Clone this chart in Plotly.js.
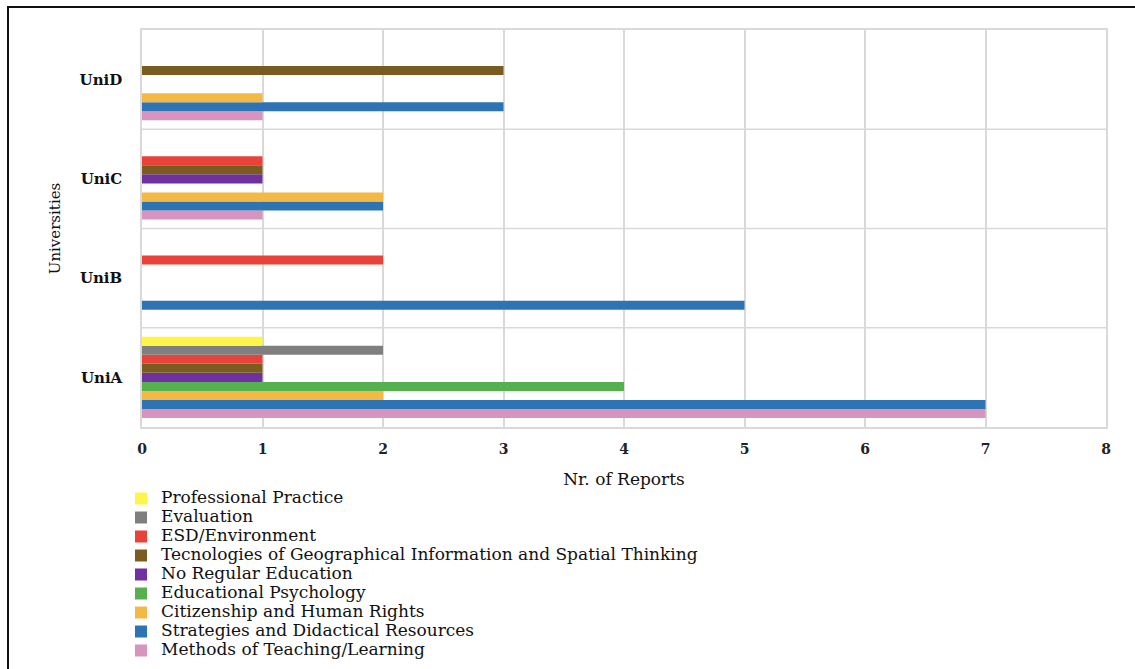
<!DOCTYPE html>
<html>
<head>
<meta charset="utf-8">
<script src="https://cdn.plot.ly/plotly-3.0.1.min.js"></script>
<style>html,body{margin:0;padding:0;background:#fff;}</style>
</head>
<body>
<div id="chart" style="width:1135px;height:669px;"></div>
<script>
// Data
const universities = ['UniA', 'UniB', 'UniC', 'UniD'];
const professionalPractice = [1, 0, 0, 0];
const evaluation = [2, 0, 0, 0];
const esdEnvironment = [1, 2, 1, 0];
const tecnologiesGIS = [1, 0, 1, 3];
const noRegularEducation = [1, 0, 1, 0];
const educationalPsychology = [4, 0, 0, 0];
const citizenshipHumanRights = [2, 0, 2, 1];
const strategiesDidactical = [7, 5, 2, 3];
const methodsTeaching = [7, 0, 1, 1];
const xTicks = [0, 1, 2, 3, 4, 5, 6, 7, 8];

// Series listed bottom-to-top within each group
const series = [
  {name: 'Methods of Teaching/Learning', values: methodsTeaching, color: '#D694BE'},
  {name: 'Strategies and Didactical Resources', values: strategiesDidactical, color: '#2E74B5'},
  {name: 'Citizenship and Human Rights', values: citizenshipHumanRights, color: '#F4B944'},
  {name: 'Educational Psychology', values: educationalPsychology, color: '#55B04F'},
  {name: 'No Regular Education', values: noRegularEducation, color: '#7030A0'},
  {name: 'Tecnologies of Geographical Information and Spatial Thinking', values: tecnologiesGIS, color: '#7B5C20'},
  {name: 'ESD/Environment', values: esdEnvironment, color: '#E8423A'},
  {name: 'Evaluation', values: evaluation, color: '#7F7F7F'},
  {name: 'Professional Practice', values: professionalPractice, color: '#FFF54A'}
];

const serif = 'DejaVu Serif, serif';
const traces = series.map(s => ({
  type: 'bar',
  orientation: 'h',
  name: '<span style="font-size:17px">' + s.name + '</span>',
  y: universities,
  x: s.values,
  marker: {color: s.color, line: {width: 0}}
}));

const W = 1135, H = 669, L = 142, R = 29, T = 30, B = 242;
const pw = W - L - R, ph = H - T - B;
const px = v => (v - L) / pw;
const py = v => (H - B - v) / ph;

const shapes = [0.5, 1.5, 2.5].map(v => ({
  type: 'line', xref: 'paper', yref: 'y', x0: 0, x1: 1, y0: v, y1: v,
  line: {color: '#D9D9D9', width: 1.5}, layer: 'below'
}));
shapes.push({
  type: 'rect', xref: 'paper', yref: 'paper',
  x0: px(8), x1: px(1145), y0: py(7), y1: py(690),
  line: {color: '#111', width: 2}, fillcolor: 'rgba(0,0,0,0)'
});

const layout = {
  width: W, height: H,
  margin: {l: L, r: R, t: T, b: B, autoexpand: false},
  paper_bgcolor: '#fff', plot_bgcolor: '#fff',
  barmode: 'group', bargap: 0.18, bargroupgap: 0,
  showlegend: true,
  legend: {
    x: px(121), y: py(484), xanchor: 'left', yanchor: 'top',
    traceorder: 'reversed',
    font: {family: serif, size: 12, color: '#111'},
    tracegroupgap: 0, itemwidth: 30, bgcolor: 'rgba(0,0,0,0)'
  },
  xaxis: {
    range: [0, 8], tickvals: xTicks, ticktext: xTicks.map(String),
    showgrid: true, gridcolor: '#D9D9D9', gridwidth: 1.5,
    zeroline: false, showline: true, mirror: true, linecolor: '#D9D9D9', linewidth: 1.5,
    ticks: '', ticklabelstandoff: 8,
    tickfont: {family: serif, size: 14, color: '#222', weight: 'bold'},
    title: {text: 'Nr. of Reports', font: {family: serif, size: 17, color: '#111'}, standoff: 18}
  },
  yaxis: {
    type: 'category', categoryorder: 'array', categoryarray: universities,
    range: [-0.5, 3.5],
    showgrid: false, zeroline: false, showline: true, mirror: true, linecolor: '#D9D9D9', linewidth: 1.5,
    ticks: '', ticklabelstandoff: 15,
    tickfont: {family: serif, size: 15, color: '#111', weight: 'bold'},
    title: {text: 'Universities', font: {family: serif, size: 15, color: '#111'}, standoff: 15}
  },
  shapes: shapes,
  font: {family: serif}
};

Plotly.newPlot('chart', traces, layout, {displayModeBar: false, responsive: false});
</script>
</body>
</html>
